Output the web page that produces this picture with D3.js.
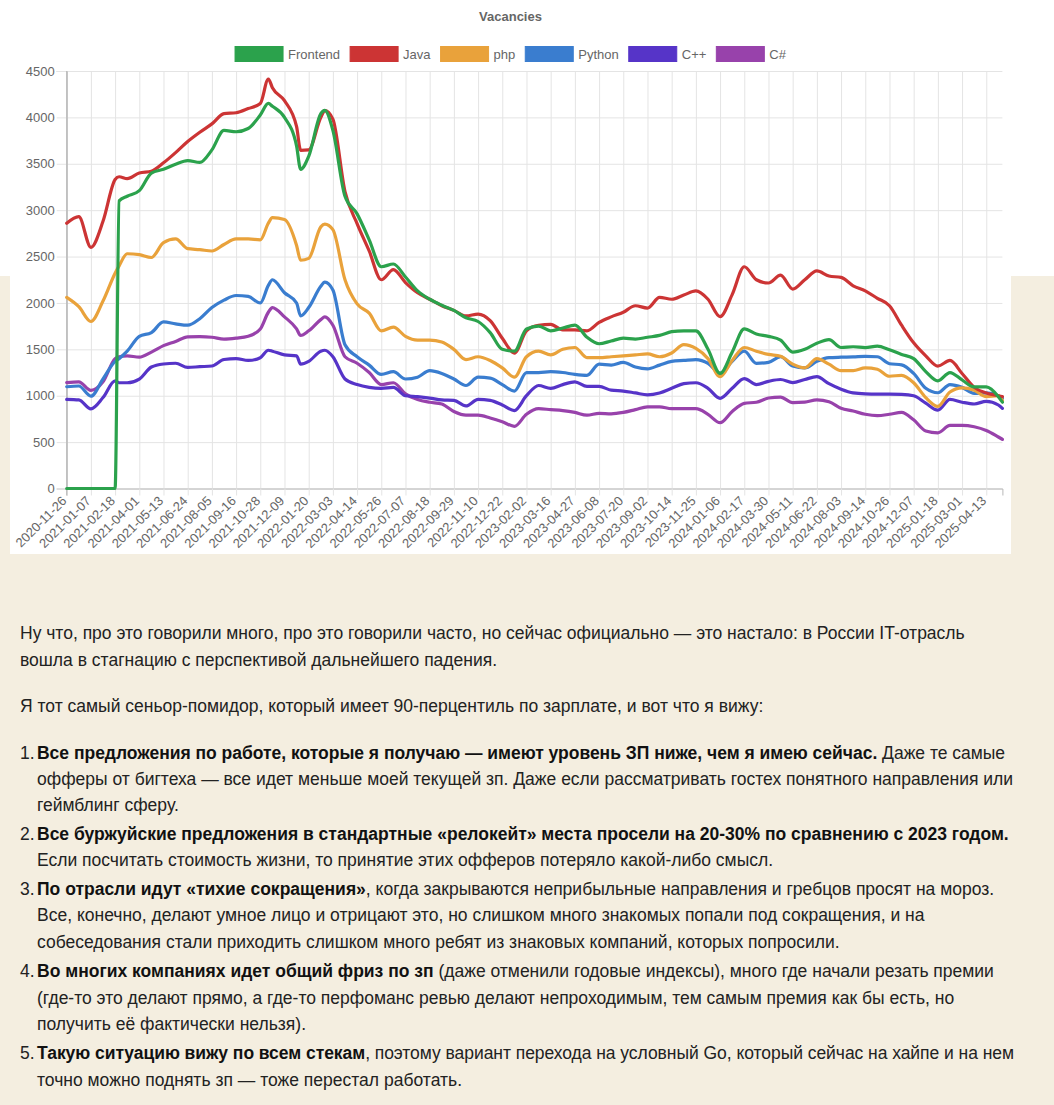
<!DOCTYPE html>
<html><head><meta charset="utf-8">
<script src="https://cdn.jsdelivr.net/npm/d3@7"></script>
<style>
html,body{margin:0;padding:0;}
body{width:1054px;height:1105px;background:#f4eee0;position:relative;overflow:hidden;font-family:"Liberation Sans",Arial,sans-serif;}
#topwhite{position:absolute;left:0;top:0;width:1054px;height:276px;background:#fff;}
#chartbg{position:absolute;left:10px;top:0;width:1001px;height:554px;background:#fff;}
#chart{position:absolute;left:0;top:0;}
.ln{position:absolute;font-size:17.5px;line-height:26px;white-space:nowrap;color:#222;}
.ln b{font-weight:bold;color:#111;}
</style></head><body>
<div id="topwhite"></div>
<div id="chartbg"></div>
<div id="chart"></div>
<div id="text"></div>
<script>
// ---------- DATA ----------
const title = "Vacancies";
const seriesNames = ["Frontend","Java","php","Python","C++","C#"];
const seriesColors = ["#2ba24c","#cc3434","#e9a23b","#3a7dcf","#5634c8","#9842ab"];
const tickLabels = ["2020-11-26","2021-01-07","2021-02-18","2021-04-01","2021-05-13","2021-06-24","2021-08-05","2021-09-16","2021-10-28","2021-12-09","2022-01-20","2022-03-03","2022-04-14","2022-05-26","2022-07-07","2022-08-18","2022-09-29","2022-11-10","2022-12-22","2023-02-02","2023-03-16","2023-04-27","2023-06-08","2023-07-20","2023-09-02","2023-10-14","2023-11-25","2024-01-06","2024-02-17","2024-03-30","2024-05-11","2024-06-22","2024-08-03","2024-09-14","2024-10-26","2024-12-07","2025-01-18","2025-03-01","2025-04-13"];
const totalWeeks = 232;
// week index of each sampled point (weekly data, sampled)
const weeks = [0,3,6,9,12,13,15,18,21,24,27,30,33,36,39,42,45,48,50,51,54,57,58,60,63,64,66,69,72,75,78,81,84,87,90,93,96,99,102,105,108,111,114,117,120,123,126,129,132,135,138,141,144,147,150,153,156,159,162,165,168,171,174,177,180,183,186,189,192,195,198,201,204,207,210,213,216,219,222,225,228,231,232];
const frontend = [0,0,0,0,0,3100,3150,3210,3400,3440,3495,3535,3515,3650,3860,3845,3880,4026,4150,4120,4000,3690,3440,3580,4040,4075,
3860,3150,2960,2680,2390,2420,2280,2130,2040,1975,1920,1840,1800,1680,1500,1480,1720,1750,1700,1730,1760,1630,1560,1590,1620,1610,1630,1650,1690,1700,1700,1500,1240,1470,1720,1665,1640,1600,1470,1500,1565,1605,1520,1528,1518,1535,1495,1445,1400,1260,1160,1250,1170,1095,1095,990,930];
const java = [2858,2930,2600,2880,3330,3360,3340,3400,3420,3510,3620,3740,3840,3930,4040,4050,4095,4150,4414,4320,4180,3900,3645,3650,4000,4072,
3980,3200,2855,2560,2250,2360,2220,2110,2040,1970,1920,1860,1880,1810,1620,1460,1700,1760,1770,1710,1710,1700,1790,1850,1900,1970,1945,2060,2040,2085,2130,2040,1852,2090,2390,2250,2215,2300,2150,2250,2345,2290,2275,2185,2130,2050,1970,1760,1570,1430,1320,1380,1240,1090,1030,1000,990];
const php = [2060,1960,1800,2020,2320,2400,2530,2520,2490,2650,2690,2585,2575,2560,2630,2690,2690,2680,2860,2920,2900,2620,2460,2480,2820,2850,
2790,2250,1990,1890,1700,1740,1640,1600,1600,1580,1500,1390,1420,1380,1300,1200,1420,1480,1440,1500,1520,1410,1410,1420,1430,1440,1450,1420,1460,1550,1510,1400,1205,1380,1520,1480,1445,1425,1340,1300,1400,1340,1270,1270,1300,1285,1210,1220,1140,980,885,1040,1085,1060,990,1000,950];
const python = [1097,1105,995,1180,1370,1400,1480,1640,1680,1795,1775,1760,1830,1950,2030,2080,2070,2000,2190,2250,2110,2000,1860,1950,2180,2225,
2140,1550,1420,1330,1230,1260,1180,1200,1270,1240,1180,1110,1200,1190,1120,1050,1250,1250,1260,1250,1230,1220,1340,1330,1360,1310,1290,1330,1370,1380,1390,1350,1241,1370,1480,1349,1360,1420,1320,1300,1370,1410,1415,1418,1425,1420,1345,1333,1240,1080,1032,1120,1090,1026,1030,1000,972];
const cpp = [961,955,858,980,1160,1140,1140,1180,1310,1342,1350,1305,1313,1320,1390,1400,1380,1410,1490,1480,1440,1430,1340,1370,1480,1490,
1420,1180,1120,1090,1080,1090,1000,990,975,955,950,890,960,950,900,840,1000,1110,1080,1120,1150,1100,1100,1060,1050,1030,1010,1030,1080,1130,1140,1080,972,1080,1185,1120,1155,1175,1142,1175,1205,1130,1070,1030,1020,1018,1018,1015,1000,920,845,960,930,911,940,900,864];
const csharp = [1141,1150,1058,1150,1400,1420,1430,1415,1470,1540,1585,1635,1636,1630,1610,1620,1640,1720,1900,1950,1850,1720,1650,1700,1820,1850,
1760,1420,1350,1250,1120,1140,1020,960,930,910,830,790,790,760,720,670,800,860,850,840,820,790,810,805,820,850,880,880,860,860,860,800,709,830,918,930,975,985,925,930,955,935,865,835,800,785,800,820,740,620,600,680,680,665,625,555,530];
const yTicks = [0,500,1000,1500,2000,2500,3000,3500,4000,4500];

const seriesValues = [frontend, java, php, python, cpp, csharp];

(function () {
// ---------- CHART ----------
const W = 1054, H = 560;
const pL = 66.7, pR = 1002.4, pT = 71, pB = 488.5;
const font = '"Liberation Sans", Arial, sans-serif';
const svg = d3.select("#chart").append("svg").attr("width", W).attr("height", H)
  .style("font-family", font);

const x = d3.scaleLinear().domain([0, totalWeeks]).range([pL, pR]);
const y = d3.scaleLinear().domain([0, 4500]).range([pB, pT]);
const tickWeeks = tickLabels.map((d, i) => i * 6);

// horizontal grid
svg.append("g").attr("transform", `translate(${pL},0)`)
  .call(d3.axisLeft(y).tickValues(yTicks).tickSize(-(pR - pL)).tickFormat(""))
  .call(g => g.select(".domain").remove())
  .call(g => g.selectAll("line").attr("stroke", "#e4e4e4"));
// vertical grid
svg.append("g").attr("transform", `translate(0,${pB})`)
  .call(d3.axisBottom(x).tickValues(tickWeeks).tickSize(-(pB - pT)).tickFormat(""))
  .call(g => g.select(".domain").remove())
  .call(g => g.selectAll("line").attr("stroke", "#e4e4e4"));

// y axis with ticks + labels
svg.append("g").attr("transform", `translate(${pL},0)`)
  .call(d3.axisLeft(y).tickValues(yTicks).tickSize(10).tickPadding(2).tickFormat(d3.format("d")))
  .call(g => g.select(".domain").attr("stroke", "#b8b8b8"))
  .call(g => g.selectAll(".tick line").attr("stroke", "#e4e4e4"))
  .call(g => g.selectAll("text").attr("fill", "#666").style("font-size", "13px").style("font-family", font));

// x axis
svg.append("g").attr("transform", `translate(0,${pB})`)
  .call(d3.axisBottom(x).tickValues(tickWeeks).tickSize(7).tickFormat((d, i) => tickLabels[i]))
  .call(g => g.select(".domain").attr("stroke", "#b8b8b8"))
  .call(g => g.selectAll(".tick line").attr("stroke", "#e4e4e4"))
  .call(g => g.selectAll("text")
    .attr("fill", "#666").style("font-size", "13px").style("font-family", font)
    .attr("text-anchor", "end").attr("x", 0).attr("y", 0).attr("dy", "0.35em")
    .attr("transform", "translate(-3,10) rotate(-45)"));
svg.append("line").attr("x1", pL).attr("x2", pL).attr("y1", pT).attr("y2", pB + 7).attr("stroke", "#b8b8b8");

// lines
const line = d3.line().x((d, i) => x(weeks[i])).y(d => y(d)).curve(d3.curveMonotoneX);
const order = d3.range(seriesNames.length).reverse();
svg.append("g").selectAll("path").data(order).join("path")
  .attr("d", k => line(seriesValues[k]))
  .attr("fill", "none")
  .attr("stroke", k => seriesColors[k])
  .attr("stroke-width", 3.2)
  .attr("stroke-linejoin", "round")
  .attr("stroke-linecap", "round");

// title
svg.append("text").attr("x", 510.5).attr("y", 16).attr("dy", "0.35em")
  .attr("text-anchor", "middle").attr("fill", "#666")
  .style("font-size", "13px").style("font-weight", "bold").text(title);

// legend
const lg = svg.append("g");
const items = lg.selectAll("g").data(seriesNames).join("g");
items.append("rect").attr("width", 48).attr("height", 15).attr("y", 46.5)
  .attr("fill", (d, i) => seriesColors[i]).attr("stroke", (d, i) => seriesColors[i]).attr("stroke-width", 1);
items.append("text").attr("y", 54).attr("dy", "0.35em").attr("fill", "#666")
  .style("font-size", "13px").text(d => d);
const widths = [];
items.each(function () { widths.push(this.querySelector("text").getComputedTextLength()); });
const itemW = widths.map(w => 48 + 5 + w);
const gap = 10;
const totalW = d3.sum(itemW) + gap * (itemW.length - 1);
let cx = 510.5 - totalW / 2;
items.each(function (d, i) {
  const g = d3.select(this);
  g.select("rect").attr("x", cx);
  g.select("text").attr("x", cx + 53);
  cx += itemW[i] + gap;
});

// ---------- TEXT ----------
const lines = [
  {t: 620, l: 20, h: 'Ну что, про это говорили много, про это говорили часто, но сейчас официально — это настало: в России IT-отрасль'},
  {t: 647, l: 20, h: 'вошла в стагнацию с перспективой дальнейшего падения.'},
  {t: 693, l: 20, h: 'Я тот самый сеньор-помидор, который имеет 90-перцентиль по зарплате, и вот что я вижу:'},
  {t: 740, l: 37, n: '1.', end: 1005, h: '<b>Все предложения по работе, которые я получаю — имеют уровень ЗП ниже, чем я имею сейчас.</b> Даже те самые'},
  {t: 766, l: 37, h: 'офферы от бигтеха — все идет меньше моей текущей зп. Даже если рассматривать гостех понятного направления или'},
  {t: 792, l: 37, h: 'геймблинг сферу.'},
  {t: 821, l: 37, n: '2.', h: '<b>Все буржуйские предложения в стандартные «релокейт» места просели на 20-30% по сравнению с 2023 годом.</b>'},
  {t: 847, l: 37, h: 'Если посчитать стоимость жизни, то принятие этих офферов потеряло какой-либо смысл.'},
  {t: 876, l: 37, n: '3.', h: '<b>По отрасли идут «тихие сокращения»</b>, когда закрываются неприбыльные направления и гребцов просят на мороз.'},
  {t: 902, l: 37, h: 'Все, конечно, делают умное лицо и отрицают это, но слишком много знакомых попали под сокращения, и на'},
  {t: 929, l: 37, h: 'собеседования стали приходить слишком много ребят из знаковых компаний, которых попросили.'},
  {t: 958, l: 37, n: '4.', h: '<b>Во многих компаниях идет общий фриз по зп</b> (даже отменили годовые индексы), много где начали резать премии'},
  {t: 985, l: 37, h: '(где-то это делают прямо, а где-то перфоманс ревью делают непроходимым, тем самым премия как бы есть, но'},
  {t: 1011, l: 37, h: 'получить её фактически нельзя).'},
  {t: 1040, l: 37, n: '5.', end: 1014, h: '<b>Такую ситуацию вижу по всем стекам</b>, поэтому вариант перехода на условный Go, который сейчас на хайпе и на нем'},
  {t: 1067, l: 37, end: 462, h: 'точно можно поднять зп — тоже перестал работать.'}
];
const tx = d3.select("#text");
lines.forEach(d => {
  if (d.n) tx.append("div").attr("class", "ln").style("top", d.t + "px").style("left", "20px").text(d.n);
  const div = tx.append("div").attr("class", "ln").style("top", d.t + "px").style("left", d.l + "px").html(d.h);
  if (d.end) {
    const node = div.node();
    const r = node.getBoundingClientRect();
    const n = node.textContent.length;
    const ls = (d.end - r.right) / n;
    div.style("letter-spacing", ls.toFixed(3) + "px");
  }
});
})();
</script>
</body></html>
